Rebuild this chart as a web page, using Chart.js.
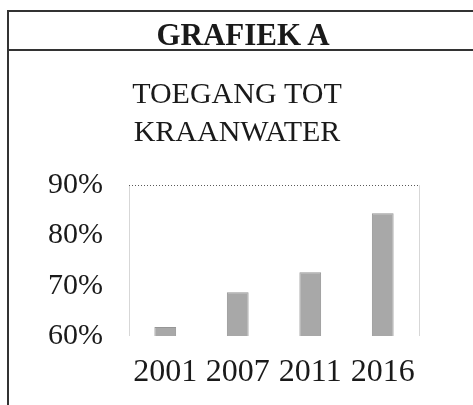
<!DOCTYPE html>
<html>
<head>
<meta charset="utf-8">
<script src="https://cdn.jsdelivr.net/npm/chart.js@4/dist/chart.umd.min.js"></script>
<style>
  body { margin: 0; background: #fff; }
  #wrap { position: relative; width: 473px; height: 405px; overflow: hidden; }
  #c { position: absolute; left: 0; top: 0; }
  .kader { position: absolute; border: 0 solid #333; pointer-events: none; }
  #kop { left: 7px; top: 10px; width: 480px; height: 37px; border-top-width: 2px; border-bottom-width: 2px; }
  #lijn { left: 7px; top: 10px; width: 0; height: 400px; border-left-width: 2px; }
  #koptekst { position: absolute; left: 0; top: 19px; width: 486px; text-align: center;
    font: bold 31px "Liberation Serif", serif; line-height: 31px; color: #1a1a1a; }
</style>
</head>
<body>
<div id="wrap">
  <canvas id="c" width="473" height="405"></canvas>
  <div class="kader" id="kop"></div>
  <div class="kader" id="lijn"></div>
  <div id="koptekst">GRAFIEK A</div>
</div>
<script>
// jaren op de x-as
const jaren = ["2001", "2007", "2011", "2016"];
// toegang tot kraanwater, in procent
const toegang = [61.8, 68.7, 72.7, 84.4];
// y-as
const yMin = 60;
const yMax = 90;
const yStap = 10;

const titel = ["TOEGANG TOT", "KRAANWATER"];

const ctx = document.getElementById("c").getContext("2d");

new Chart(ctx, {
  type: "bar",
  data: {
    labels: jaren,
    datasets: [{
      data: toegang,
      backgroundColor: "rgb(168,168,168)",
      borderColor: "rgb(150,150,150)",
      borderWidth: 1,
      barPercentage: 0.3,
      categoryPercentage: 1
    }]
  },
  options: {
    responsive: false,
    animation: false,
    layout: { padding: { left: 46, right: 45, top: 0, bottom: 9 } },
    plugins: {
      legend: { display: false },
      tooltip: { enabled: false },
      title: {
        display: true,
        text: titel,
        color: "#1a1a1a",
        font: { family: "'Liberation Serif', serif", size: 30, weight: "normal", lineHeight: 1.27 },
        padding: { top: 76, bottom: 33 }
      }
    },
    scales: {
      x: {
        afterFit: function(scale) { scale.height = 60; },
        grid: {
          drawTicks: false,
          offset: true,
          color: function(c) {
            // alleen de buitenste lijnen, licht grijs
            if (c.type === "scale" || c.index === 0) return "rgb(215,215,215)";
            return "rgba(0,0,0,0)";
          }
        },
        border: { display: false },
        ticks: {
          padding: 17,
          color: "#1a1a1a",
          font: { family: "'Liberation Serif', serif", size: 32 }
        }
      },
      y: {
        min: yMin,
        max: yMax,
        afterFit: function(scale) { scale.width = 83; },
        grid: {
          drawTicks: false,
          color: function(c) {
            return c.tick && c.tick.value === yMax ? "rgb(90,90,90)" : "rgba(0,0,0,0)";
          }
        },
        border: { display: false, dash: [1, 2] },
        ticks: {
          stepSize: yStap,
          padding: 26,
          color: "#1a1a1a",
          font: { family: "'Liberation Serif', serif", size: 30 },
          callback: function(v) { return v + "%"; }
        }
      },
      // lege as rechts, alleen als ruimte
      rechts: {
        type: "linear",
        position: "right",
        afterFit: function(scale) { scale.width = 9; },
        grid: { display: false },
        border: { display: false },
        ticks: { display: false }
      }
    }
  }
});
</script>
</body>
</html>
